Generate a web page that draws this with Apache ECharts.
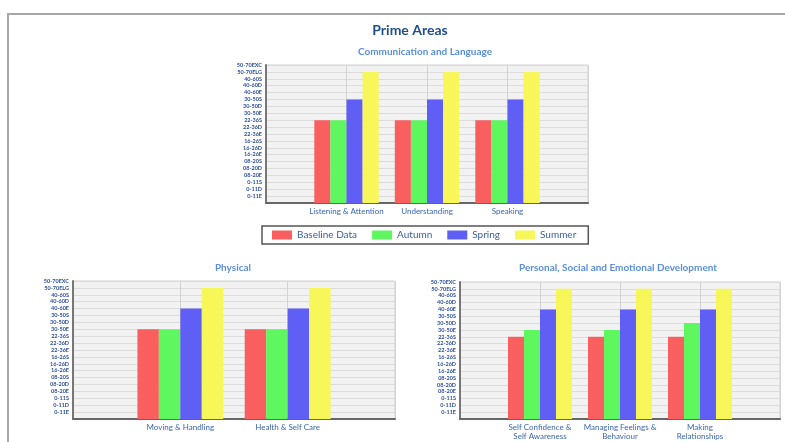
<!DOCTYPE html>
<html>
<head>
<meta charset="utf-8">
<script src="https://cdn.jsdelivr.net/npm/echarts@6/dist/echarts.min.js"></script>
<style>
html,body{margin:0;padding:0;background:#fff;}
#chart{width:785px;height:442px;}
</style>
</head>
<body>
<div id="chart"></div>
<script>
// Level labels, from bottom (1) to top (20)
const levelLabels = ['0-11E','0-11D','0-11S','08-20E','08-20D','08-20S','16-26E','16-26D','16-26S',
  '22-36E','22-36D','22-36S','30-50E','30-50D','30-50S','40-60E','40-60D','40-60S','50-70ELG','50-70EXC'];
const seriesNames = ['Baseline Data','Autumn','Spring','Summer'];
const seriesColors = ['#F95F5F','#5FF75F','#5F5FF5','#F7F75A'];

// Communication and Language
const commCategories = ['Listening & Attention','Understanding','Speaking'];
const commBaseline = [12,12,12];
const commAutumn   = [12,12,12];
const commSpring   = [15,15,15];
const commSummer   = [19,19,19];

// Physical
const physCategories = ['Moving & Handling','Health & Self Care'];
const physBaseline = [13,13];
const physAutumn   = [13,13];
const physSpring   = [16,16];
const physSummer   = [19,19];

// Personal, Social and Emotional Development
const psedCategories = ['Self Confidence &\nSelf Awareness','Managing Feelings &\nBehaviour','Making\nRelationships'];
const psedBaseline = [12,12,12];
const psedAutumn   = [13,13,14];
const psedSpring   = [16,16,16];
const psedSummer   = [19,19,19];

const FONT = 'Lato, "Open Sans", sans-serif';
const pad = arr => ['-'].concat(arr, ['-']);
const padCat = arr => [''].concat(arr, ['']);

const grids = [
  {left:266, top:65, width:322, height:138},
  {left:73, top:281, width:322, height:138},
  {left:460, top:282, width:320, height:137}
].map(g => Object.assign(g, {show:true, backgroundColor:'#f2f2f2', borderColor:'#d0d0d0', borderWidth:1, containLabel:false}));

const catsList = [commCategories, physCategories, psedCategories];
const dataList = [
  [commBaseline, commAutumn, commSpring, commSummer],
  [physBaseline, physAutumn, physSpring, physSummer],
  [psedBaseline, psedAutumn, psedSpring, psedSummer]
];

const xAxes = catsList.map((cats, i) => ({
  type:'category', gridIndex:i, boundaryGap:false, data:padCat(cats),
  axisLine:{show:true, lineStyle:{color:'#666', width:2}},
  axisTick:{show:false},
  splitLine:{show:true, lineStyle:{color:'#d2d2d2', width:1}},
  axisLabel:{interval:0, fontSize:8, color:'#3a67b0', fontFamily:FONT, margin:4, lineHeight:9}
}));

const yAxes = [0,1,2].map(i => ({
  type:'value', gridIndex:i, min:0, max:20, interval:1,
  axisLine:{show:true, lineStyle:{color:'#777', width:2}},
  axisTick:{show:false},
  splitLine:{show:true, lineStyle:{color:'#dcdcdc', width:1}},
  axisLabel:{fontSize:5.5, fontWeight:'bold', color:'#2d4f9a', fontFamily:FONT, margin:4,
    formatter: v => (v >= 1 && v <= 20) ? levelLabels[v-1] : ''}
}));

const series = [];
dataList.forEach((group, gi) => {
  group.forEach((vals, si) => {
    series.push({
      type:'bar', name:seriesNames[si], xAxisIndex:gi, yAxisIndex:gi,
      data:pad(vals), barGap:'0%', barCategoryGap:'20%',
      itemStyle:{color:seriesColors[si]},
      emphasis:{disabled:true}
    });
  });
});

const chart = echarts.init(document.getElementById('chart'), null, {renderer:'canvas'});
chart.setOption({
  animation:false,
  backgroundColor:'#fff',
  textStyle:{fontFamily:FONT},
  grid:grids,
  xAxis:xAxes,
  yAxis:yAxes,
  series:series,
  legend:{
    data:seriesNames, left:262, top:226, itemWidth:20, itemHeight:9, itemGap:15,
    padding:[4,12,4,10], borderColor:'#555', borderWidth:1.5, backgroundColor:'#fff',
    icon:'rect',
    textStyle:{fontSize:10, color:'#3a5f9f', fontFamily:FONT}
  },
  graphic:[
    {type:'rect', shape:{x:8, y:14, width:800, height:500}, style:{fill:'none', stroke:'#a8a8a8', lineWidth:2}, silent:true},
    {type:'text', x:410, y:30, style:{text:'Prime Areas', textAlign:'center', textVerticalAlign:'middle', fontSize:14, fontWeight:'bold', fontFamily:FONT, fill:'#1f4e8c'}},
    {type:'text', x:425, y:52, style:{text:'Communication and Language', textAlign:'center', textVerticalAlign:'middle', fontSize:10, fontWeight:'bold', fontFamily:FONT, fill:'#5b8fdc'}},
    {type:'text', x:233, y:268, style:{text:'Physical', textAlign:'center', textVerticalAlign:'middle', fontSize:10, fontWeight:'bold', fontFamily:FONT, fill:'#5b8fdc'}},
    {type:'text', x:618, y:268, style:{text:'Personal, Social and Emotional Development', textAlign:'center', textVerticalAlign:'middle', fontSize:10, fontWeight:'bold', fontFamily:FONT, fill:'#5b8fdc'}}
  ]
});
</script>
</body>
</html>
